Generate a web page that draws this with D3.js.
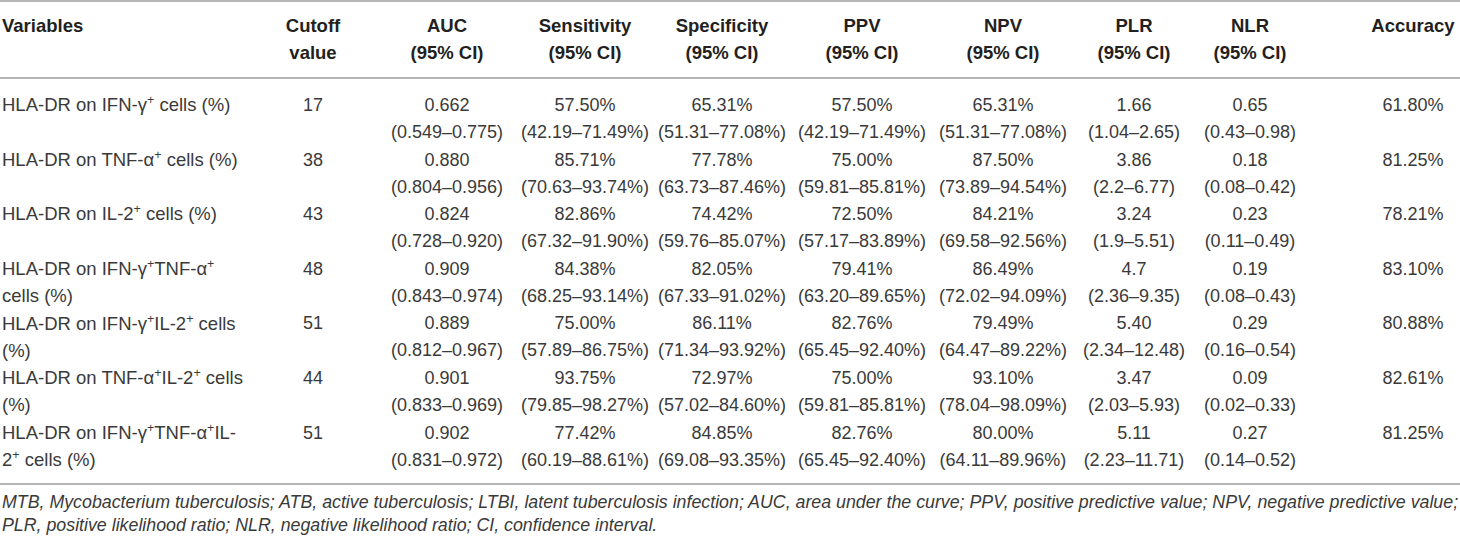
<!DOCTYPE html>
<html>
<head>
<meta charset="utf-8">
<script src="https://cdn.jsdelivr.net/npm/d3@7"></script>
<style>
  body { margin: 0; background: #fff; }
  text { font-family: "Liberation Sans", Arial, sans-serif; fill: #231f20; }
  .head { font-weight: bold; font-size: 18.5px; }
  .cell { font-size: 18px; fill: #3a3a3a; }
  .var { font-size: 18.5px; }
  .note { font-size: 17.8px; font-style: italic; fill: #3a3a3a; }
  .rule { stroke: #9d9d9d; stroke-width: 1.5; }
</style>
</head>
<body>
<div id="chart"></div>
<script>
const width = 1460;
const height = 541;

// Table data
const headers = [
  ["Variables"], ["Cutoff", "value"], ["AUC", "(95% CI)"], ["Sensitivity", "(95% CI)"],
  ["Specificity", "(95% CI)"], ["PPV", "(95% CI)"], ["NPV", "(95% CI)"],
  ["PLR", "(95% CI)"], ["NLR", "(95% CI)"], ["Accuracy"]
];

// ^+ marks a superscript plus
const variables = [
  ["HLA-DR on IFN-γ^+ cells (%)"],
  ["HLA-DR on TNF-α^+ cells (%)"],
  ["HLA-DR on IL-2^+ cells (%)"],
  ["HLA-DR on IFN-γ^+TNF-α^+", "cells (%)"],
  ["HLA-DR on IFN-γ^+IL-2^+ cells", "(%)"],
  ["HLA-DR on TNF-α^+IL-2^+ cells", "(%)"],
  ["HLA-DR on IFN-γ^+TNF-α^+IL-", "2^+ cells (%)"]
];
const cutoffs = ["17", "38", "43", "48", "51", "44", "51"];
const auc = ["0.662", "0.880", "0.824", "0.909", "0.889", "0.901", "0.902"];
const aucCI = ["0.549–0.775", "0.804–0.956", "0.728–0.920", "0.843–0.974", "0.812–0.967", "0.833–0.969", "0.831–0.972"];
const sensitivity = ["57.50%", "85.71%", "82.86%", "84.38%", "75.00%", "93.75%", "77.42%"];
const sensitivityCI = ["42.19–71.49%", "70.63–93.74%", "67.32–91.90%", "68.25–93.14%", "57.89–86.75%", "79.85–98.27%", "60.19–88.61%"];
const specificity = ["65.31%", "77.78%", "74.42%", "82.05%", "86.11%", "72.97%", "84.85%"];
const specificityCI = ["51.31–77.08%", "63.73–87.46%", "59.76–85.07%", "67.33–91.02%", "71.34–93.92%", "57.02–84.60%", "69.08–93.35%"];
const ppv = ["57.50%", "75.00%", "72.50%", "79.41%", "82.76%", "75.00%", "82.76%"];
const ppvCI = ["42.19–71.49%", "59.81–85.81%", "57.17–83.89%", "63.20–89.65%", "65.45–92.40%", "59.81–85.81%", "65.45–92.40%"];
const npv = ["65.31%", "87.50%", "84.21%", "86.49%", "79.49%", "93.10%", "80.00%"];
const npvCI = ["51.31–77.08%", "73.89–94.54%", "69.58–92.56%", "72.02–94.09%", "64.47–89.22%", "78.04–98.09%", "64.11–89.96%"];
const plr = ["1.66", "3.86", "3.24", "4.7", "5.40", "3.47", "5.11"];
const plrCI = ["1.04–2.65", "2.2–6.77", "1.9–5.51", "2.36–9.35", "2.34–12.48", "2.03–5.93", "2.23–11.71"];
const nlr = ["0.65", "0.18", "0.23", "0.19", "0.29", "0.09", "0.27"];
const nlrCI = ["0.43–0.98", "0.08–0.42", "0.11–0.49", "0.08–0.43", "0.16–0.54", "0.02–0.33", "0.14–0.52"];
const accuracy = ["61.80%", "81.25%", "78.21%", "83.10%", "80.88%", "82.61%", "81.25%"];

const footnotes = [
  "MTB, Mycobacterium tuberculosis; ATB, active tuberculosis; LTBI, latent tuberculosis infection; AUC, area under the curve; PPV, positive predictive value; NPV, negative predictive value;",
  "PLR, positive likelihood ratio; NLR, negative likelihood ratio; CI, confidence interval."
];

// Column layout: center x of each column (Variables is left aligned)
const colX = [2, 313, 447, 585, 722, 862, 1003, 1134, 1250, 1413];

// each body column: [first line values, second line values]
const bodyCols = [
  [cutoffs, null], [auc, aucCI], [sensitivity, sensitivityCI], [specificity, specificityCI],
  [ppv, ppvCI], [npv, npvCI], [plr, plrCI], [nlr, nlrCI], [accuracy, null]
];

const svg = d3.select("#chart").append("svg")
  .attr("width", width)
  .attr("height", height);

const x = d3.scaleOrdinal().domain(d3.range(headers.length)).range(colX);
const y = d3.scaleBand().domain(d3.range(variables.length)).range([91, 473]);
const lineGap = 27;

// Rules
svg.selectAll("line.rule")
  .data([1, 78, 484])
  .join("line")
  .attr("class", "rule")
  .attr("x1", 0)
  .attr("x2", width)
  .attr("y1", d => d)
  .attr("y2", d => d);

// Header
const head = svg.append("g").selectAll("text")
  .data(headers)
  .join("text")
  .attr("class", "head")
  .attr("text-anchor", (d, i) => i === 0 ? "start" : "middle")
  .attr("x", (d, i) => x(i));
head.selectAll("tspan")
  .data(d => d)
  .join("tspan")
  .attr("x", function () { return d3.select(this.parentNode).attr("x"); })
  .attr("y", (d, i) => 32 + i * lineGap)
  .text(d => d);

// write text with ^+ superscripts
function richText(sel, str) {
  str.split("^+").forEach((part, i) => {
    if (i > 0) {
      sel.append("tspan").attr("dy", -7).attr("font-size", "12.5px").text("+");
      sel.append("tspan").attr("dy", 7).text(part);
    } else {
      sel.append("tspan").text(part);
    }
  });
}

// Variables column
const rows = svg.append("g").selectAll("g")
  .data(variables)
  .join("g")
  .attr("transform", (d, i) => `translate(0,${y(i) + y.bandwidth() / 2 - lineGap / 2})`);

rows.each(function (lines) {
  const g = d3.select(this);
  lines.forEach((ln, j) => {
    const t = g.append("text")
      .attr("class", "cell var")
      .attr("x", x(0))
      .attr("y", j * lineGap)
      .attr("dy", "0.35em");
    richText(t, ln);
  });
});

// Value columns
bodyCols.forEach(([vals, cis], c) => {
  const col = c + 1;
  svg.append("g").selectAll("text")
    .data(vals)
    .join("text")
    .attr("class", "cell")
    .attr("text-anchor", "middle")
    .attr("x", x(col))
    .attr("y", (d, i) => y(i) + y.bandwidth() / 2 - lineGap / 2)
    .attr("dy", "0.35em")
    .text(d => d);
  if (cis) {
    svg.append("g").selectAll("text")
      .data(cis)
      .join("text")
      .attr("class", "cell")
      .attr("text-anchor", "middle")
      .attr("x", x(col))
      .attr("y", (d, i) => y(i) + y.bandwidth() / 2 + lineGap / 2)
      .attr("dy", "0.35em")
      .text(d => `(${d})`);
  }
});

// Footnotes
svg.append("g").selectAll("text")
  .data(footnotes)
  .join("text")
  .attr("class", "note")
  .attr("x", 2)
  .attr("y", (d, i) => 502 + i * 23)
  .attr("dy", "0.35em")
  .text(d => d);
</script>
</body>
</html>
